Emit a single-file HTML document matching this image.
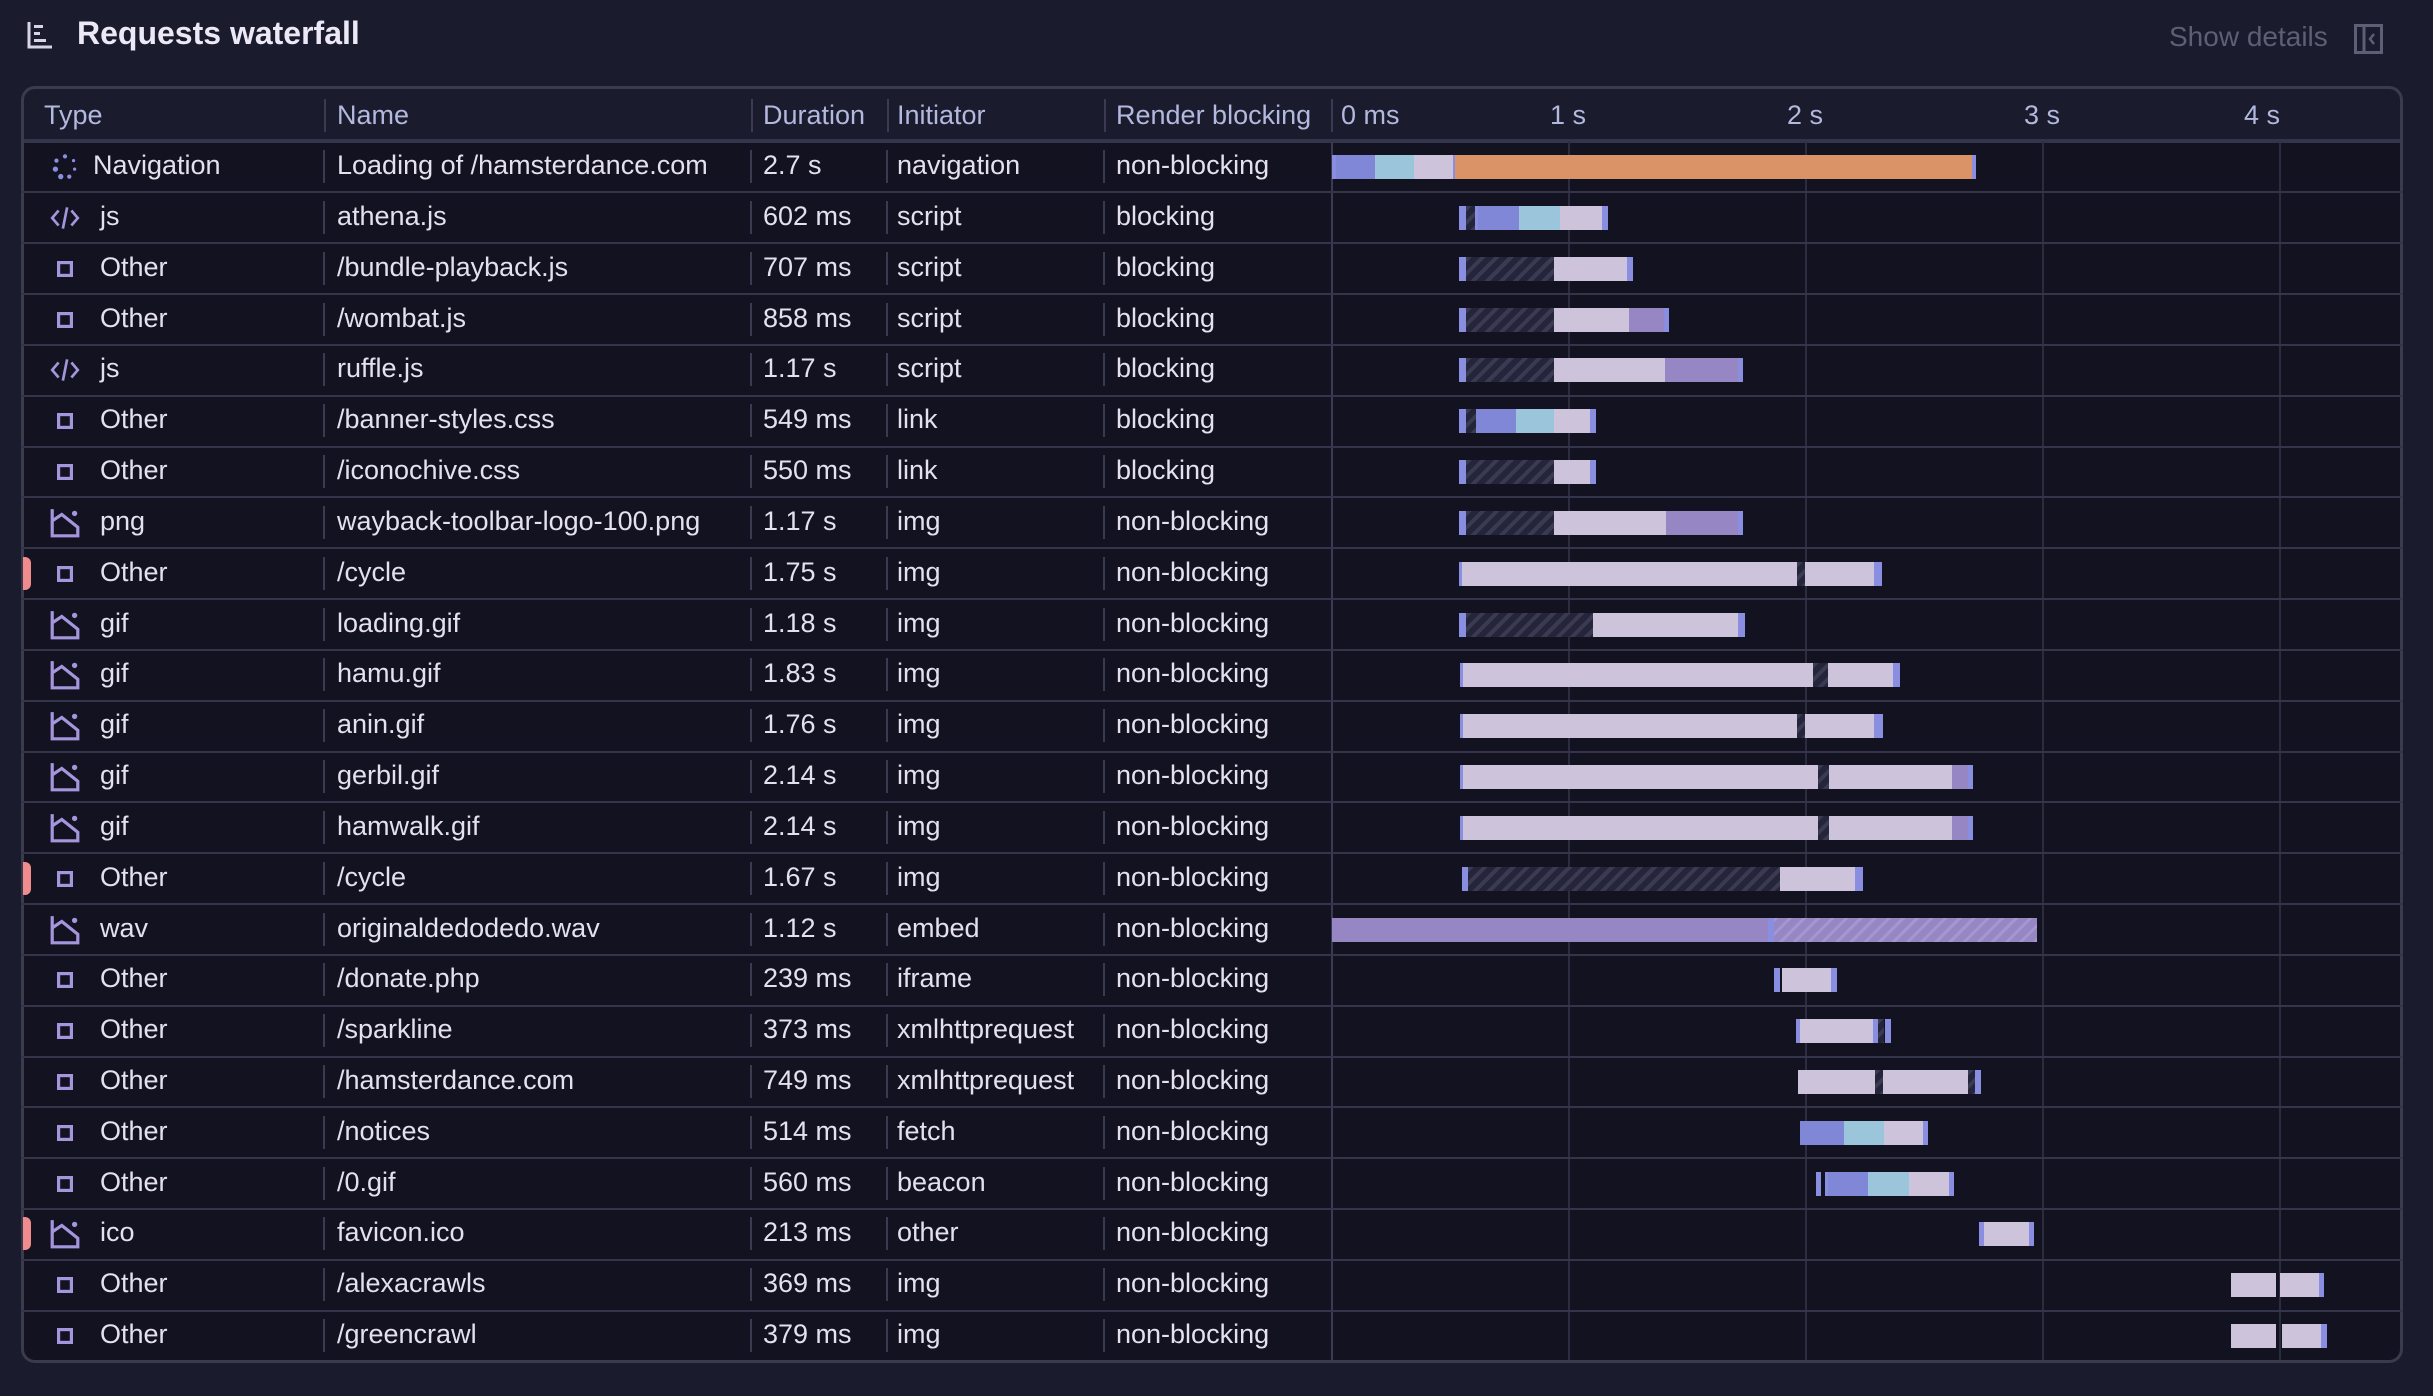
<!DOCTYPE html>
<html><head><meta charset="utf-8"><style>
*{margin:0;padding:0;box-sizing:border-box}
body{width:2433px;height:1396px;background:#1a1b2d;font-family:"Liberation Sans",sans-serif;position:relative;overflow:hidden;color:#e4e0ee}
.a{position:absolute}
.tbl{position:absolute;left:21px;top:86px;width:2382px;height:1277px;border:3px solid #3b3b50;border-radius:14px;overflow:hidden;background:#1a1b2d}
.body{position:absolute;left:0;top:53px;right:0;bottom:0;background:#121220}
.hl{position:absolute;left:0;right:0;height:2px;background:#34344a}
.gl{position:absolute;top:53px;bottom:0;width:2px;background:#2c2c40}
.h{position:absolute;top:0;height:53px;line-height:53px;font-size:27px;color:#b3b8de;white-space:nowrap}
.hd{position:absolute;top:10px;height:33px;width:2px;background:#3a3a50}
.r{position:absolute;left:0;right:0;height:51px}
.t{position:absolute;top:-1px;line-height:51px;font-size:27px;color:#e4e0ee;white-space:nowrap}
.d{position:absolute;top:9px;height:33px;width:2px;background:#3a3a50}
.b{position:absolute;top:14px;height:24px}
.m{background:#8a8ee0}.bl{background:#8087d6}.lb{background:#9bc5da}.lv{background:#cdc4dc}.pu{background:#9786c4}.or{background:#d99366}
.hx{background:repeating-linear-gradient(135deg,#3a3a52 0 4px,#24243a 4px 10px)}
.hp{background:repeating-linear-gradient(135deg,#a596d0 0 3px,#9786c4 3px 10px)}
.ic{position:absolute;left:28px;top:10px;width:32px;height:32px}
.red{position:absolute;left:2px;top:9px;width:8px;height:33px;background:#f08c8c;border-radius:0 6px 6px 0}
</style></head><body>
<svg class="a" style="left:26px;top:20px" width="28" height="30" viewBox="0 0 28 30"><path d="M3 2V27H26" stroke="#d8d4e8" stroke-width="3" fill="none"/><rect x="8" y="5" width="9" height="3" fill="#d8d4e8"/><rect x="8" y="12" width="6" height="3" fill="#d8d4e8"/><rect x="8" y="19" width="12" height="3" fill="#d8d4e8"/></svg>
<div class="a" style="left:77px;top:13px;font-size:32px;font-weight:bold;color:#ece8f6;line-height:40px">Requests waterfall</div>
<div class="a" style="left:2169px;top:20px;font-size:28px;color:#5e5e74;line-height:34px">Show details</div>
<svg class="a" style="left:2354px;top:24px" width="29" height="30" viewBox="0 0 29 30"><rect x="1.5" y="1.5" width="26" height="27" stroke="#5e5e74" stroke-width="3" fill="none"/><line x1="10" y1="2" x2="10" y2="28" stroke="#5e5e74" stroke-width="3"/><path d="M20 10L16 15L20 20" stroke="#5e5e74" stroke-width="2.5" fill="none"/></svg>

<div class="tbl">
<div class="h" style="left:20px">Type</div>
<div class="h" style="left:313px">Name</div>
<div class="h" style="left:739px">Duration</div>
<div class="h" style="left:873px">Initiator</div>
<div class="h" style="left:1092px">Render blocking</div>
<div class="h" style="left:1317px">0 ms</div>
<div class="h" style="left:1526px">1 s</div>
<div class="h" style="left:1763px">2 s</div>
<div class="h" style="left:2000px">3 s</div>
<div class="h" style="left:2220px">4 s</div>
<div class="hd" style="left:300px"></div><div class="hd" style="left:727px"></div><div class="hd" style="left:863px"></div><div class="hd" style="left:1080px"></div><div class="hd" style="left:1307px"></div>
<div class="body"></div>
<div class="a" style="left:0;right:0;top:50px;height:4px;background:#34344a"></div>
<div class="gl" style="left:1307px;background:#3a3a50"></div><div class="gl" style="left:1544px"></div><div class="gl" style="left:1781px"></div><div class="gl" style="left:2018px"></div><div class="gl" style="left:2255px"></div>
</div>

<div class="a" style="left:21px;top:0;width:2382px;height:1396px">
<div class="r" style="top:141px">
<svg class="ic" viewBox="0 0 30 30"><g fill="#8a8ee0"><circle cx="15" cy="5" r="2"/><circle cx="23" cy="9" r="1.5"/><circle cx="24" cy="17" r="1.5"/><circle cx="19" cy="24" r="2"/><circle cx="11" cy="24" r="2.5"/><circle cx="6" cy="17" r="2.5"/><circle cx="7" cy="9" r="2"/></g></svg>
<div class="t" style="left:72px">Navigation</div><div class="d" style="left:302px"></div><div class="t" style="left:316px">Loading of /hamsterdance.com</div><div class="d" style="left:729px"></div><div class="t" style="left:742px">2.7 s</div><div class="d" style="left:865px"></div><div class="t" style="left:876px">navigation</div><div class="d" style="left:1082px"></div><div class="t" style="left:1095px">non-blocking</div>
<div class="b m" style="left:1311px;width:4px"></div><div class="b bl" style="left:1315px;width:39px"></div><div class="b lb" style="left:1354px;width:39px"></div><div class="b lv" style="left:1393px;width:39px"></div><div class="b m" style="left:1432px;width:2px"></div><div class="b or" style="left:1434px;width:517px"></div><div class="b m" style="left:1951px;width:4px"></div>
</div>
</div>

<div class="a" style="left:21px;top:0;width:2382px;height:1396px">
<div class="hl" style="top:191px"></div><div class="hl" style="top:242px"></div><div class="hl" style="top:293px"></div><div class="hl" style="top:344px"></div><div class="hl" style="top:395px"></div><div class="hl" style="top:446px"></div><div class="hl" style="top:496px"></div><div class="hl" style="top:547px"></div><div class="hl" style="top:598px"></div><div class="hl" style="top:649px"></div><div class="hl" style="top:700px"></div><div class="hl" style="top:751px"></div><div class="hl" style="top:801px"></div><div class="hl" style="top:852px"></div><div class="hl" style="top:903px"></div><div class="hl" style="top:954px"></div><div class="hl" style="top:1005px"></div><div class="hl" style="top:1056px"></div><div class="hl" style="top:1106px"></div><div class="hl" style="top:1157px"></div><div class="hl" style="top:1208px"></div><div class="hl" style="top:1259px"></div><div class="hl" style="top:1310px"></div>
</div>

<div class="a" style="left:21px;top:0;width:2382px;height:1396px">
<div class="r" style="top:192px">
<svg class="ic" viewBox="0 0 30 30"><path d="M9 8L3 15L9 22M21 8L27 15L21 22M17 5L13 25" stroke="#a595dc" stroke-width="2.5" fill="none"/></svg>
<div class="t" style="left:79px">js</div><div class="d" style="left:302px"></div><div class="t" style="left:316px">athena.js</div><div class="d" style="left:729px"></div><div class="t" style="left:742px">602 ms</div><div class="d" style="left:865px"></div><div class="t" style="left:876px">script</div><div class="d" style="left:1082px"></div><div class="t" style="left:1095px">blocking</div>
<div class="b m" style="left:1438px;width:7px"></div><div class="b hx" style="left:1445px;width:9px"></div><div class="b m" style="left:1454px;width:3px"></div><div class="b bl" style="left:1457px;width:41px"></div><div class="b lb" style="left:1498px;width:41px"></div><div class="b lv" style="left:1539px;width:42px"></div><div class="b m" style="left:1581px;width:6px"></div>
</div>
<div class="r" style="top:243px">
<svg class="ic" viewBox="0 0 30 30"><rect x="9" y="9" width="12" height="12" stroke="#a595dc" stroke-width="3" fill="none"/></svg>
<div class="t" style="left:79px">Other</div><div class="d" style="left:302px"></div><div class="t" style="left:316px">/bundle-playback.js</div><div class="d" style="left:729px"></div><div class="t" style="left:742px">707 ms</div><div class="d" style="left:865px"></div><div class="t" style="left:876px">script</div><div class="d" style="left:1082px"></div><div class="t" style="left:1095px">blocking</div>
<div class="b m" style="left:1438px;width:7px"></div><div class="b hx" style="left:1445px;width:88px"></div><div class="b lv" style="left:1533px;width:73px"></div><div class="b m" style="left:1606px;width:6px"></div>
</div>
<div class="r" style="top:293.5px">
<svg class="ic" viewBox="0 0 30 30"><rect x="9" y="9" width="12" height="12" stroke="#a595dc" stroke-width="3" fill="none"/></svg>
<div class="t" style="left:79px">Other</div><div class="d" style="left:302px"></div><div class="t" style="left:316px">/wombat.js</div><div class="d" style="left:729px"></div><div class="t" style="left:742px">858 ms</div><div class="d" style="left:865px"></div><div class="t" style="left:876px">script</div><div class="d" style="left:1082px"></div><div class="t" style="left:1095px">blocking</div>
<div class="b m" style="left:1438px;width:7px"></div><div class="b hx" style="left:1445px;width:88px"></div><div class="b lv" style="left:1533px;width:75px"></div><div class="b pu" style="left:1608px;width:35px"></div><div class="b m" style="left:1643px;width:5px"></div>
</div>
<div class="r" style="top:344.3px">
<svg class="ic" viewBox="0 0 30 30"><path d="M9 8L3 15L9 22M21 8L27 15L21 22M17 5L13 25" stroke="#a595dc" stroke-width="2.5" fill="none"/></svg>
<div class="t" style="left:79px">js</div><div class="d" style="left:302px"></div><div class="t" style="left:316px">ruffle.js</div><div class="d" style="left:729px"></div><div class="t" style="left:742px">1.17 s</div><div class="d" style="left:865px"></div><div class="t" style="left:876px">script</div><div class="d" style="left:1082px"></div><div class="t" style="left:1095px">blocking</div>
<div class="b m" style="left:1438px;width:7px"></div><div class="b hx" style="left:1445px;width:88px"></div><div class="b lv" style="left:1533px;width:111px"></div><div class="b pu" style="left:1644px;width:73px"></div><div class="b m" style="left:1717px;width:5px"></div>
</div>
<div class="r" style="top:395.2px">
<svg class="ic" viewBox="0 0 30 30"><rect x="9" y="9" width="12" height="12" stroke="#a595dc" stroke-width="3" fill="none"/></svg>
<div class="t" style="left:79px">Other</div><div class="d" style="left:302px"></div><div class="t" style="left:316px">/banner-styles.css</div><div class="d" style="left:729px"></div><div class="t" style="left:742px">549 ms</div><div class="d" style="left:865px"></div><div class="t" style="left:876px">link</div><div class="d" style="left:1082px"></div><div class="t" style="left:1095px">blocking</div>
<div class="b m" style="left:1438px;width:7px"></div><div class="b hx" style="left:1445px;width:10px"></div><div class="b bl" style="left:1455px;width:40px"></div><div class="b lb" style="left:1495px;width:38px"></div><div class="b lv" style="left:1533px;width:36px"></div><div class="b m" style="left:1569px;width:6px"></div>
</div>
<div class="r" style="top:446px">
<svg class="ic" viewBox="0 0 30 30"><rect x="9" y="9" width="12" height="12" stroke="#a595dc" stroke-width="3" fill="none"/></svg>
<div class="t" style="left:79px">Other</div><div class="d" style="left:302px"></div><div class="t" style="left:316px">/iconochive.css</div><div class="d" style="left:729px"></div><div class="t" style="left:742px">550 ms</div><div class="d" style="left:865px"></div><div class="t" style="left:876px">link</div><div class="d" style="left:1082px"></div><div class="t" style="left:1095px">blocking</div>
<div class="b m" style="left:1438px;width:7px"></div><div class="b hx" style="left:1445px;width:88px"></div><div class="b lv" style="left:1533px;width:36px"></div><div class="b m" style="left:1569px;width:6px"></div>
</div>
<div class="r" style="top:496.8px">
<svg class="ic" viewBox="0 0 30 30"><path d="M3 2V27H27V19L12 7L3 13" stroke="#a595dc" stroke-width="3" fill="none"/><circle cx="24" cy="6" r="2.5" fill="#a595dc"/></svg>
<div class="t" style="left:79px">png</div><div class="d" style="left:302px"></div><div class="t" style="left:316px">wayback-toolbar-logo-100.png</div><div class="d" style="left:729px"></div><div class="t" style="left:742px">1.17 s</div><div class="d" style="left:865px"></div><div class="t" style="left:876px">img</div><div class="d" style="left:1082px"></div><div class="t" style="left:1095px">non-blocking</div>
<div class="b m" style="left:1438px;width:7px"></div><div class="b hx" style="left:1445px;width:88px"></div><div class="b lv" style="left:1533px;width:112px"></div><div class="b pu" style="left:1645px;width:72px"></div><div class="b m" style="left:1717px;width:5px"></div>
</div>
<div class="r" style="top:547.6px">
<div class="red"></div>
<svg class="ic" viewBox="0 0 30 30"><rect x="9" y="9" width="12" height="12" stroke="#a595dc" stroke-width="3" fill="none"/></svg>
<div class="t" style="left:79px">Other</div><div class="d" style="left:302px"></div><div class="t" style="left:316px">/cycle</div><div class="d" style="left:729px"></div><div class="t" style="left:742px">1.75 s</div><div class="d" style="left:865px"></div><div class="t" style="left:876px">img</div><div class="d" style="left:1082px"></div><div class="t" style="left:1095px">non-blocking</div>
<div class="b m" style="left:1438px;width:3px"></div><div class="b lv" style="left:1441px;width:335px"></div><div class="b hx" style="left:1776px;width:8px"></div><div class="b lv" style="left:1784px;width:69px"></div><div class="b m" style="left:1853px;width:8px"></div>
</div>
<div class="r" style="top:598.5px">
<svg class="ic" viewBox="0 0 30 30"><path d="M3 2V27H27V19L12 7L3 13" stroke="#a595dc" stroke-width="3" fill="none"/><circle cx="24" cy="6" r="2.5" fill="#a595dc"/></svg>
<div class="t" style="left:79px">gif</div><div class="d" style="left:302px"></div><div class="t" style="left:316px">loading.gif</div><div class="d" style="left:729px"></div><div class="t" style="left:742px">1.18 s</div><div class="d" style="left:865px"></div><div class="t" style="left:876px">img</div><div class="d" style="left:1082px"></div><div class="t" style="left:1095px">non-blocking</div>
<div class="b m" style="left:1438px;width:7px"></div><div class="b hx" style="left:1445px;width:127px"></div><div class="b lv" style="left:1572px;width:145px"></div><div class="b m" style="left:1717px;width:7px"></div>
</div>
<div class="r" style="top:649.3px">
<svg class="ic" viewBox="0 0 30 30"><path d="M3 2V27H27V19L12 7L3 13" stroke="#a595dc" stroke-width="3" fill="none"/><circle cx="24" cy="6" r="2.5" fill="#a595dc"/></svg>
<div class="t" style="left:79px">gif</div><div class="d" style="left:302px"></div><div class="t" style="left:316px">hamu.gif</div><div class="d" style="left:729px"></div><div class="t" style="left:742px">1.83 s</div><div class="d" style="left:865px"></div><div class="t" style="left:876px">img</div><div class="d" style="left:1082px"></div><div class="t" style="left:1095px">non-blocking</div>
<div class="b m" style="left:1439px;width:3px"></div><div class="b lv" style="left:1442px;width:350px"></div><div class="b hx" style="left:1792px;width:15px"></div><div class="b lv" style="left:1807px;width:65px"></div><div class="b m" style="left:1872px;width:7px"></div>
</div>
<div class="r" style="top:700.1px">
<svg class="ic" viewBox="0 0 30 30"><path d="M3 2V27H27V19L12 7L3 13" stroke="#a595dc" stroke-width="3" fill="none"/><circle cx="24" cy="6" r="2.5" fill="#a595dc"/></svg>
<div class="t" style="left:79px">gif</div><div class="d" style="left:302px"></div><div class="t" style="left:316px">anin.gif</div><div class="d" style="left:729px"></div><div class="t" style="left:742px">1.76 s</div><div class="d" style="left:865px"></div><div class="t" style="left:876px">img</div><div class="d" style="left:1082px"></div><div class="t" style="left:1095px">non-blocking</div>
<div class="b m" style="left:1439px;width:3px"></div><div class="b lv" style="left:1442px;width:334px"></div><div class="b hx" style="left:1776px;width:8px"></div><div class="b lv" style="left:1784px;width:69px"></div><div class="b m" style="left:1853px;width:9px"></div>
</div>
<div class="r" style="top:751px">
<svg class="ic" viewBox="0 0 30 30"><path d="M3 2V27H27V19L12 7L3 13" stroke="#a595dc" stroke-width="3" fill="none"/><circle cx="24" cy="6" r="2.5" fill="#a595dc"/></svg>
<div class="t" style="left:79px">gif</div><div class="d" style="left:302px"></div><div class="t" style="left:316px">gerbil.gif</div><div class="d" style="left:729px"></div><div class="t" style="left:742px">2.14 s</div><div class="d" style="left:865px"></div><div class="t" style="left:876px">img</div><div class="d" style="left:1082px"></div><div class="t" style="left:1095px">non-blocking</div>
<div class="b m" style="left:1439px;width:3px"></div><div class="b lv" style="left:1442px;width:355px"></div><div class="b hx" style="left:1797px;width:11px"></div><div class="b lv" style="left:1808px;width:123px"></div><div class="b pu" style="left:1931px;width:16px"></div><div class="b m" style="left:1947px;width:5px"></div>
</div>
<div class="r" style="top:801.8px">
<svg class="ic" viewBox="0 0 30 30"><path d="M3 2V27H27V19L12 7L3 13" stroke="#a595dc" stroke-width="3" fill="none"/><circle cx="24" cy="6" r="2.5" fill="#a595dc"/></svg>
<div class="t" style="left:79px">gif</div><div class="d" style="left:302px"></div><div class="t" style="left:316px">hamwalk.gif</div><div class="d" style="left:729px"></div><div class="t" style="left:742px">2.14 s</div><div class="d" style="left:865px"></div><div class="t" style="left:876px">img</div><div class="d" style="left:1082px"></div><div class="t" style="left:1095px">non-blocking</div>
<div class="b m" style="left:1439px;width:3px"></div><div class="b lv" style="left:1442px;width:355px"></div><div class="b hx" style="left:1797px;width:11px"></div><div class="b lv" style="left:1808px;width:123px"></div><div class="b pu" style="left:1931px;width:16px"></div><div class="b m" style="left:1947px;width:5px"></div>
</div>
<div class="r" style="top:852.6px">
<div class="red"></div>
<svg class="ic" viewBox="0 0 30 30"><rect x="9" y="9" width="12" height="12" stroke="#a595dc" stroke-width="3" fill="none"/></svg>
<div class="t" style="left:79px">Other</div><div class="d" style="left:302px"></div><div class="t" style="left:316px">/cycle</div><div class="d" style="left:729px"></div><div class="t" style="left:742px">1.67 s</div><div class="d" style="left:865px"></div><div class="t" style="left:876px">img</div><div class="d" style="left:1082px"></div><div class="t" style="left:1095px">non-blocking</div>
<div class="b m" style="left:1441px;width:6px"></div><div class="b hx" style="left:1447px;width:312px"></div><div class="b lv" style="left:1759px;width:75px"></div><div class="b m" style="left:1834px;width:8px"></div>
</div>
<div class="r" style="top:903.5px">
<svg class="ic" viewBox="0 0 30 30"><path d="M3 2V27H27V19L12 7L3 13" stroke="#a595dc" stroke-width="3" fill="none"/><circle cx="24" cy="6" r="2.5" fill="#a595dc"/></svg>
<div class="t" style="left:79px">wav</div><div class="d" style="left:302px"></div><div class="t" style="left:316px">originaldedodedo.wav</div><div class="d" style="left:729px"></div><div class="t" style="left:742px">1.12 s</div><div class="d" style="left:865px"></div><div class="t" style="left:876px">embed</div><div class="d" style="left:1082px"></div><div class="t" style="left:1095px">non-blocking</div>
<div class="b pu" style="left:1311px;width:436px"></div><div class="b m" style="left:1747px;width:6px"></div><div class="b hp" style="left:1753px;width:263px"></div>
</div>
<div class="r" style="top:954.3px">
<svg class="ic" viewBox="0 0 30 30"><rect x="9" y="9" width="12" height="12" stroke="#a595dc" stroke-width="3" fill="none"/></svg>
<div class="t" style="left:79px">Other</div><div class="d" style="left:302px"></div><div class="t" style="left:316px">/donate.php</div><div class="d" style="left:729px"></div><div class="t" style="left:742px">239 ms</div><div class="d" style="left:865px"></div><div class="t" style="left:876px">iframe</div><div class="d" style="left:1082px"></div><div class="t" style="left:1095px">non-blocking</div>
<div class="b m" style="left:1753px;width:6px"></div><div class="b lv" style="left:1761px;width:49px"></div><div class="b m" style="left:1810px;width:6px"></div>
</div>
<div class="r" style="top:1005.1px">
<svg class="ic" viewBox="0 0 30 30"><rect x="9" y="9" width="12" height="12" stroke="#a595dc" stroke-width="3" fill="none"/></svg>
<div class="t" style="left:79px">Other</div><div class="d" style="left:302px"></div><div class="t" style="left:316px">/sparkline</div><div class="d" style="left:729px"></div><div class="t" style="left:742px">373 ms</div><div class="d" style="left:865px"></div><div class="t" style="left:876px">xmlhttprequest</div><div class="d" style="left:1082px"></div><div class="t" style="left:1095px">non-blocking</div>
<div class="b m" style="left:1775px;width:4px"></div><div class="b lv" style="left:1779px;width:73px"></div><div class="b m" style="left:1852px;width:5px"></div><div class="b hx" style="left:1857px;width:6px"></div><div class="b m" style="left:1864px;width:6px"></div>
</div>
<div class="r" style="top:1055.9px">
<svg class="ic" viewBox="0 0 30 30"><rect x="9" y="9" width="12" height="12" stroke="#a595dc" stroke-width="3" fill="none"/></svg>
<div class="t" style="left:79px">Other</div><div class="d" style="left:302px"></div><div class="t" style="left:316px">/hamsterdance.com</div><div class="d" style="left:729px"></div><div class="t" style="left:742px">749 ms</div><div class="d" style="left:865px"></div><div class="t" style="left:876px">xmlhttprequest</div><div class="d" style="left:1082px"></div><div class="t" style="left:1095px">non-blocking</div>
<div class="b lv" style="left:1777px;width:77px"></div><div class="b hx" style="left:1854px;width:8px"></div><div class="b lv" style="left:1862px;width:85px"></div><div class="b hx" style="left:1947px;width:7px"></div><div class="b m" style="left:1954px;width:6px"></div>
</div>
<div class="r" style="top:1106.8px">
<svg class="ic" viewBox="0 0 30 30"><rect x="9" y="9" width="12" height="12" stroke="#a595dc" stroke-width="3" fill="none"/></svg>
<div class="t" style="left:79px">Other</div><div class="d" style="left:302px"></div><div class="t" style="left:316px">/notices</div><div class="d" style="left:729px"></div><div class="t" style="left:742px">514 ms</div><div class="d" style="left:865px"></div><div class="t" style="left:876px">fetch</div><div class="d" style="left:1082px"></div><div class="t" style="left:1095px">non-blocking</div>
<div class="b bl" style="left:1779px;width:44px"></div><div class="b lb" style="left:1823px;width:40px"></div><div class="b lv" style="left:1863px;width:39px"></div><div class="b m" style="left:1902px;width:5px"></div>
</div>
<div class="r" style="top:1157.6px">
<svg class="ic" viewBox="0 0 30 30"><rect x="9" y="9" width="12" height="12" stroke="#a595dc" stroke-width="3" fill="none"/></svg>
<div class="t" style="left:79px">Other</div><div class="d" style="left:302px"></div><div class="t" style="left:316px">/0.gif</div><div class="d" style="left:729px"></div><div class="t" style="left:742px">560 ms</div><div class="d" style="left:865px"></div><div class="t" style="left:876px">beacon</div><div class="d" style="left:1082px"></div><div class="t" style="left:1095px">non-blocking</div>
<div class="b m" style="left:1795px;width:5px"></div><div class="b m" style="left:1804px;width:3px"></div><div class="b bl" style="left:1807px;width:40px"></div><div class="b lb" style="left:1847px;width:41px"></div><div class="b lv" style="left:1888px;width:40px"></div><div class="b m" style="left:1928px;width:5px"></div>
</div>
<div class="r" style="top:1208.4px">
<div class="red"></div>
<svg class="ic" viewBox="0 0 30 30"><path d="M3 2V27H27V19L12 7L3 13" stroke="#a595dc" stroke-width="3" fill="none"/><circle cx="24" cy="6" r="2.5" fill="#a595dc"/></svg>
<div class="t" style="left:79px">ico</div><div class="d" style="left:302px"></div><div class="t" style="left:316px">favicon.ico</div><div class="d" style="left:729px"></div><div class="t" style="left:742px">213 ms</div><div class="d" style="left:865px"></div><div class="t" style="left:876px">other</div><div class="d" style="left:1082px"></div><div class="t" style="left:1095px">non-blocking</div>
<div class="b m" style="left:1958px;width:5px"></div><div class="b lv" style="left:1963px;width:45px"></div><div class="b m" style="left:2008px;width:5px"></div>
</div>
<div class="r" style="top:1259.3px">
<svg class="ic" viewBox="0 0 30 30"><rect x="9" y="9" width="12" height="12" stroke="#a595dc" stroke-width="3" fill="none"/></svg>
<div class="t" style="left:79px">Other</div><div class="d" style="left:302px"></div><div class="t" style="left:316px">/alexacrawls</div><div class="d" style="left:729px"></div><div class="t" style="left:742px">369 ms</div><div class="d" style="left:865px"></div><div class="t" style="left:876px">img</div><div class="d" style="left:1082px"></div><div class="t" style="left:1095px">non-blocking</div>
<div class="b lv" style="left:2210px;width:45px"></div><div class="b lv" style="left:2259px;width:39px"></div><div class="b m" style="left:2298px;width:5px"></div>
</div>
<div class="r" style="top:1310.1px">
<svg class="ic" viewBox="0 0 30 30"><rect x="9" y="9" width="12" height="12" stroke="#a595dc" stroke-width="3" fill="none"/></svg>
<div class="t" style="left:79px">Other</div><div class="d" style="left:302px"></div><div class="t" style="left:316px">/greencrawl</div><div class="d" style="left:729px"></div><div class="t" style="left:742px">379 ms</div><div class="d" style="left:865px"></div><div class="t" style="left:876px">img</div><div class="d" style="left:1082px"></div><div class="t" style="left:1095px">non-blocking</div>
<div class="b lv" style="left:2210px;width:45px"></div><div class="b lv" style="left:2261px;width:39px"></div><div class="b m" style="left:2300px;width:6px"></div>
</div>
</div>
</body></html>
